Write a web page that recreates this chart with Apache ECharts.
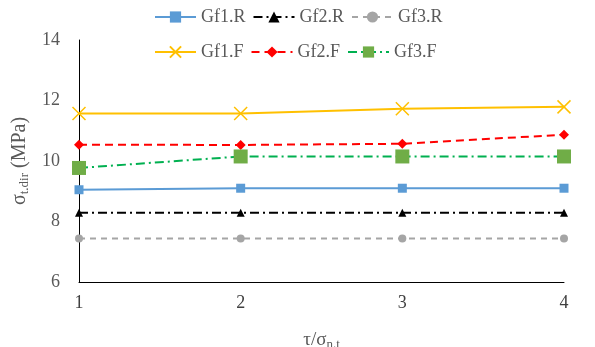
<!DOCTYPE html>
<html><head><meta charset="utf-8">
<script src="https://cdn.jsdelivr.net/npm/echarts@6/dist/echarts.min.js"></script>
<style>html,body{margin:0;padding:0;background:#fff}#c{width:595px;height:347px}</style>
</head><body><div id="c"></div>
<script>
const xValues = [1, 2, 3, 4];
const gf1R = [9.05, 9.10, 9.10, 9.10];
const gf2R = [8.29, 8.29, 8.29, 8.29];
const gf3R = [7.44, 7.44, 7.44, 7.44];
const gf1F = [11.57, 11.57, 11.73, 11.79];
const gf2F = [10.54, 10.53, 10.57, 10.87];
const gf3F = [9.77, 10.15, 10.15, 10.15];
const yTicks = [6, 8, 10, 12, 14];

const FONT = 'Liberation Serif';
const TXT = '#595959';
const pair = arr => xValues.map((x, i) => [x, arr[i]]);
const XPATH = 'path://M0,0L10,10M10,0L0,10';

function S(name, data, color, lineType, symbol, size, extra) {
  return Object.assign({
    name, type: 'line', data: pair(data), symbol, symbolSize: size,
    lineStyle: { color, width: 2, type: lineType },
    itemStyle: { color },
    z: 3
  }, extra || {});
}

const chart = echarts.init(document.getElementById('c'), null, { renderer: 'canvas' });
chart.setOption({
  animation: false,
  textStyle: { fontFamily: FONT },
  grid: { left: 79, right: 31, top: 40, bottom: 65, outerBoundsMode: 'none', containLabel: false },
  legend: [
    { data: ['Gf1.R', 'Gf2.R', 'Gf3.R'], left: 154, top: 8, padding: 0, itemWidth: 41, itemHeight: 14, itemGap: 7,
      textStyle: { fontFamily: FONT, fontSize: 18, color: TXT } },
    { data: ['Gf1.F', 'Gf2.F', 'Gf3.F'], left: 154, top: 43, padding: 0, itemWidth: 41, itemHeight: 14, itemGap: 7,
      textStyle: { fontFamily: FONT, fontSize: 18, color: TXT } }
  ],
  xAxis: {
    type: 'value', min: 1, max: 4, interval: 1,
    axisLine: { show: true, lineStyle: { color: '#000', width: 1 } },
    axisTick: { show: false }, splitLine: { show: false },
    axisLabel: { fontFamily: FONT, fontSize: 18, color: '#404040', margin: 12 },
    name: '{a|τ/σ}{s|n.t}', nameLocation: 'middle', nameGap: 48,
    nameTextStyle: { rich: {
      a: { fontFamily: FONT, fontSize: 19, color: TXT },
      s: { fontFamily: FONT, fontSize: 13, color: TXT, padding: [8, 0, 0, 0] }
    } }
  },
  yAxis: {
    type: 'value', min: 6, max: 14, interval: 2,
    axisLine: { show: true, lineStyle: { color: '#000', width: 1 } },
    axisTick: { show: false }, splitLine: { show: false },
    axisLabel: { fontFamily: FONT, fontSize: 18, color: TXT, margin: 19,
      formatter: v => yTicks.includes(v) ? String(v) : '' },
    name: '{a|σ}{s|t.dir}{a| (MPa)}', nameLocation: 'middle', nameGap: 46,
    nameTextStyle: { rich: {
      a: { fontFamily: FONT, fontSize: 20, color: TXT },
      s: { fontFamily: FONT, fontSize: 13, color: TXT, padding: [9, 0, 0, 0] }
    } }
  },
  series: [
    S('Gf1.R', gf1R, '#5B9BD5', 'solid', 'rect', 9),
    S('Gf2.R', gf2R, '#000000', [9, 4, 2, 4], 'triangle', 8),
    S('Gf3.R', gf3R, '#A5A5A5', [6, 5], 'circle', 8),
    S('Gf1.F', gf1F, '#FFC000', 'solid', XPATH, 13,
      { itemStyle: { color: '#FFC000', borderColor: '#FFC000', borderWidth: 1.5 } }),
    S('Gf2.F', gf2F, '#FF0000', [8, 5], 'diamond', 10),
    S('Gf3.F', gf3F, '#00B050', [9, 4, 2, 4], 'rect', 14,
      { itemStyle: { color: '#70AD47' } })
  ]
});
</script></body></html>
